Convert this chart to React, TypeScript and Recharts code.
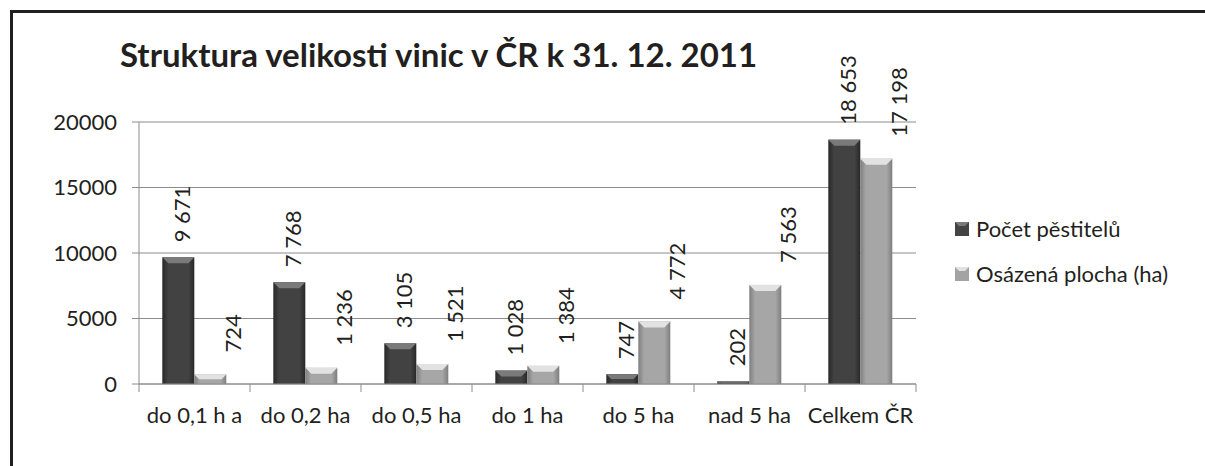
import React from 'react';
import { BarChart, Bar, XAxis, YAxis, CartesianGrid, Legend, LabelList } from 'recharts';

// data
const categories = ['do 0,1 h a', 'do 0,2 ha', 'do 0,5 ha', 'do 1 ha', 'do 5 ha', 'nad 5 ha', 'Celkem ČR'];
const pestitelu = [9671, 7768, 3105, 1028, 747, 202, 18653];
const plocha = [724, 1236, 1521, 1384, 4772, 7563, 17198];
const seriesNames = ['Počet pěstitelů', 'Osázená plocha (ha)'];
const yTicks = [0, 5000, 10000, 15000, 20000];

const data = categories.map((name, i) => ({ name, pestitelu: pestitelu[i], plocha: plocha[i] }));

const W = 1205;
const H = 466;
const X_AXIS_H = 30;
const M = { top: 122, right: 289, bottom: 52, left: 79 };
const Y_AXIS_W = 60;
const PLOT_W = W - M.left - Y_AXIS_W - M.right;
const BAND = PLOT_W / categories.length;
const AXIS_Y = H - M.bottom - X_AXIS_H;
const FONT = 'Lato, "Open Sans", sans-serif';
const INK = '#231f20';
const GRID = '#8c8c8c';

const fmt = (v: number) => String(v).replace(/\B(?=(\d{3})+(?!\d))/g, '\u00a0');

const tones: Record<string, { top: string }> = {
  dark: { top: '#7a7a7a' },
  light: { top: '#e2e2e2' },
};

const BevelBar = (props: any) => {
  const { x, y, width, height, tone } = props;
  if (!height || height <= 0) return null;
  const b = Math.min(6, height / 2, width / 4);
  return (
    <g>
      <rect x={x} y={y} width={width} height={height} fill={`url(#grad-${tone})`} />
      <polygon
        points={`${x},${y} ${x + width},${y} ${x + width - b},${y + b} ${x + b},${y + b}`}
        fill={tones[tone].top}
      />
    </g>
  );
};

const makeLabel = (dx: number, gap: number) => (props: any) => {
  const { x, y, width, value } = props;
  const cx = x + width / 2 + dx;
  const by = y - gap;
  return (
    <text
      x={cx}
      y={by}
      transform={`rotate(-90 ${cx} ${by})`}
      textAnchor="start"
      dominantBaseline="central"
      fontFamily={FONT}
      fontSize={22}
      fill={INK}
    >
      {fmt(value)}
    </text>
  );
};

const CategoryTick = (props: any) => {
  const { x, payload, index } = props;
  const left = x - BAND / 2;
  return (
    <g>
      <line x1={left} y1={AXIS_Y} x2={left} y2={AXIS_Y + 8} stroke={GRID} />
      {index === categories.length - 1 && (
        <line x1={x + BAND / 2} y1={AXIS_Y} x2={x + BAND / 2} y2={AXIS_Y + 8} stroke={GRID} />
      )}
      <text x={x} y={AXIS_Y + 39} textAnchor="middle" fontFamily={FONT} fontSize={22} fill={INK}>
        {payload.value}
      </text>
    </g>
  );
};

const LegendContent = (props: any) => {
  const items = [...(props.payload || [])].sort(
    (a: any, b: any) => seriesNames.indexOf(a.value) - seriesNames.indexOf(b.value)
  );
  return (
    <div style={{ fontFamily: FONT, fontSize: 22, color: INK }}>
      {items.map((p: any, i: number) => (
        <div key={i} style={{ display: 'flex', alignItems: 'center', height: 45 }}>
          <svg width={14} height={14} style={{ marginRight: 7 }}>
            <rect x={0} y={0} width={14} height={14} fill={i === 0 ? '#444' : '#a3a3a3'} />
            <polygon points="0,0 14,0 10,4 4,4" fill={i === 0 ? '#7a7a7a' : '#e2e2e2'} />
          </svg>
          <span>{p.value}</span>
        </div>
      ))}
    </div>
  );
};

export default function App() {
  return (
    <div style={{ position: 'absolute', left: 0, top: 0, width: W, height: H, background: '#fff' }}>
      <div
        style={{
          position: 'absolute',
          left: 10,
          top: 10,
          width: W - 10,
          height: H - 10,
          borderTop: `3px solid ${INK}`,
          borderLeft: `3px solid ${INK}`,
          boxSizing: 'border-box',
        }}
      />
      <div
        style={{
          position: 'absolute',
          left: 120,
          top: 38,
          fontFamily: FONT,
          fontWeight: 700,
          fontSize: 33,
          lineHeight: 1,
          color: INK,
          whiteSpace: 'nowrap',
        }}
      >
        Struktura velikosti vinic v ČR k 31. 12. 2011
      </div>
      <div style={{ position: 'absolute', left: 0, top: 0 }}>
        <BarChart width={W} height={H} data={data} margin={M} barCategoryGap="21%" barGap={0}>
          <defs>
            <linearGradient id="grad-dark" x1="0" y1="0" x2="1" y2="0">
              <stop offset="0%" stopColor="#282828" />
              <stop offset="18%" stopColor="#424242" />
              <stop offset="82%" stopColor="#424242" />
              <stop offset="100%" stopColor="#282828" />
            </linearGradient>
            <linearGradient id="grad-light" x1="0" y1="0" x2="1" y2="0">
              <stop offset="0%" stopColor="#7e7e7e" />
              <stop offset="18%" stopColor="#a6a6a6" />
              <stop offset="82%" stopColor="#a6a6a6" />
              <stop offset="100%" stopColor="#7e7e7e" />
            </linearGradient>
          </defs>
          <CartesianGrid vertical={false} stroke={GRID} />
          <XAxis
            dataKey="name"
            height={X_AXIS_H}
            axisLine={{ stroke: GRID }}
            tickLine={false}
            tick={<CategoryTick />}
            interval={0}
          />
          <YAxis
            width={Y_AXIS_W}
            domain={[0, 20000]}
            ticks={yTicks}
            axisLine={{ stroke: GRID }}
            tickLine={{ stroke: GRID }}
            tickSize={7}
            tickMargin={15}
            tick={{ fontFamily: FONT, fontSize: 22, fill: INK }}
          />
          <Legend
            layout="vertical"
            align="center"
            verticalAlign="middle"
            content={<LegendContent />}
            wrapperStyle={{ left: 955, top: 206, width: 245 }}
          />
          <Bar dataKey="pestitelu" name={seriesNames[0]} fill="#444" isAnimationActive={false}
            shape={(p: any) => <BevelBar {...p} tone="dark" />}>
            <LabelList dataKey="pestitelu" content={makeLabel(3, 15)} />
          </Bar>
          <Bar dataKey="plocha" name={seriesNames[1]} fill="#a3a3a3" isAnimationActive={false}
            shape={(p: any) => <BevelBar {...p} tone="light" />}>
            <LabelList dataKey="plocha" content={makeLabel(22, 22)} />
          </Bar>
        </BarChart>
      </div>
    </div>
  );
}
